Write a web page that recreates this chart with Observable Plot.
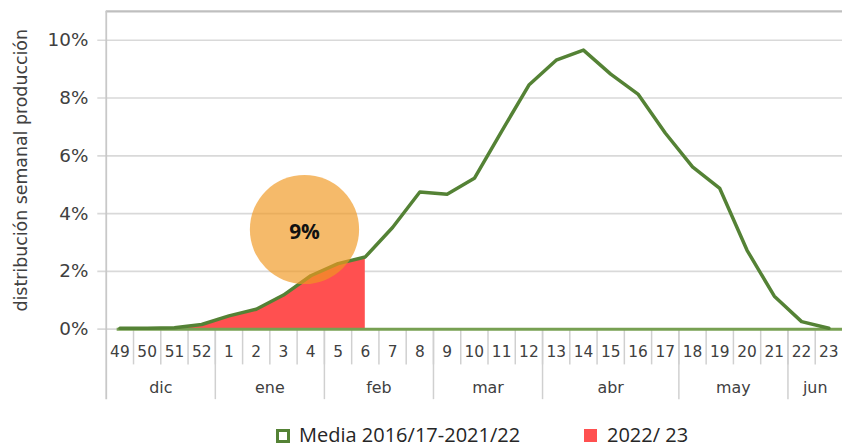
<!DOCTYPE html>
<html>
<head>
<meta charset="utf-8">
<script src="https://cdn.jsdelivr.net/npm/d3@7"></script>
<script src="https://cdn.jsdelivr.net/npm/@observablehq/plot@0.6"></script>
<style>
  html, body { margin: 0; padding: 0; background: #fff; overflow: hidden; width: 842px; height: 447px; }
  #chart { position: absolute; left: 0; top: 0; }
  .leg { position: absolute; font-family: "Open Sans", sans-serif; font-size: 20px; color: #262626; white-space: nowrap; line-height: 22px; }
  .sw { position: absolute; box-sizing: border-box; }
</style>
</head>
<body>
<div id="chart"></div>
<div class="sw" style="left:276px; top:429px; width:14px; height:14px; border:3px solid #548235; background:#fff;"></div>
<div class="leg" style="left:299px; top:424px;">Media 2016/17-2021/22</div>
<div class="sw" style="left:584px; top:429px; width:13px; height:13px; background:#FF5050;"></div>
<div class="leg" style="left:607px; top:424px;">2022/ 23</div>
<script>
// ---- data ----
const weeks = ["49","50","51","52","1","2","3","4","5","6","7","8","9","10","11","12","13","14","15","16","17","18","19","20","21","22","23"];
const media = [0.03,0.03,0.05,0.16,0.46,0.69,1.18,1.85,2.27,2.5,3.52,4.75,4.67,5.22,6.85,8.45,9.31,9.66,8.83,8.14,6.79,5.62,4.87,2.73,1.14,0.26,0.03]; // %
const season2223 = [0.02,0.02,0.04,0.14,0.44,0.67,1.15,1.8,2.25,2.48]; // % weeks 49..6
const monthNames = ["dic","ene","feb","mar","abr","may","jun"];
const monthWeekCounts = [4,4,4,4,5,4,2];
const yTicks = [0,0.02,0.04,0.06,0.08,0.10];
const yTop = 0.11;
const annotationLabel = "9%";
const annotationWeekPos = 7.27;   // between weeks 3 and 4
const annotationValue = 0.0345;
const yAxisTitle = "distribución semanal producción";

// ---- derived tables ----
const mediaData = weeks.map((w,i) => ({i: i + 0.5, w, v: media[i] / 100}));
const seasonData = season2223.map((v,i) => ({i: i + 0.5, v: v / 100}));
const weekBounds = d3.range(1, weeks.length);
let acc = 0;
const months = monthNames.map((m,k) => { const s = acc; acc += monthWeekCounts[k]; return {m, start: s, end: acc, mid: (s + acc) / 2}; });
const monthBounds = months.map(d => d.end).filter(e => e < weeks.length);

const pxPerUnit = 391 / 0.1344;
const yMin = -71 / pxPerUnit;       // bottom of the category axis area
const weekRowBottom = -36 / pxPerUnit;

const axisFont = "DejaVu Sans, sans-serif";
const grey = "#d0d0d0";

const chart = Plot.plot({
  width: 848,
  height: 416,
  marginLeft: 106.5,
  marginRight: 0,
  marginTop: 11,
  marginBottom: 14,
  style: {fontFamily: axisFont, background: "transparent", overflow: "visible"},
  x: {type: "linear", domain: [0, weeks.length], axis: null},
  y: {domain: [yMin, yTop], axis: null},
  marks: [
    Plot.ruleY(yTicks, {x1: -0.31, x2: weeks.length, stroke: "#d9d9d9", strokeWidth: 1.6}),
    Plot.ruleY([yTop], {x1: 0, x2: weeks.length, stroke: "#bfbfbf", strokeWidth: 2.2}),
    Plot.ruleX([0], {y1: yMin, y2: yTop, stroke: "#c8c8c8", strokeWidth: 1.8}),
    Plot.ruleX(weekBounds, {y1: 0, y2: weekRowBottom, stroke: grey, strokeWidth: 1.5}),
    Plot.ruleX(monthBounds, {y1: 0, y2: yMin, stroke: grey, strokeWidth: 1.5}),
    Plot.text(yTicks, {x: 0, y: d => d, text: d => d3.format(".0%")(d), textAnchor: "end", dx: -18, fontSize: 18.5, fill: "#404040"}),
    Plot.text([yAxisTitle], {x: 0, y: 0.055, text: d => d, rotate: -90, dx: -85, fontSize: 17.5, fill: "#404040"}),
    Plot.areaY(seasonData, {x: "i", y: "v", fill: "#FF5050"}),
    Plot.ruleY([0], {x1: 0.4, x2: weeks.length, stroke: "#77A052", strokeWidth: 3}),
    Plot.line(mediaData, {x: "i", y: "v", stroke: "#548235", strokeWidth: 3.5, strokeLinejoin: "round"}),
    Plot.dot([annotationValue], {x: annotationWeekPos, y: d => d, r: 55, fill: "#F09821", fillOpacity: 0.67, stroke: "none"}),
    Plot.text([annotationLabel], {x: annotationWeekPos, y: annotationValue, dy: 3, text: d => d, fontSize: 21, fontWeight: "bold", fill: "#111", fontFamily: "Open Sans, sans-serif"}),
    Plot.text(mediaData, {x: "i", y: 0, dy: 23, text: "w", fontSize: 15.5, fill: "#404040"}),
    Plot.text(months, {x: "mid", y: 0, dy: 59, text: "m", fontSize: 16, fill: "#404040"})
  ]
});
document.getElementById("chart").appendChild(chart);
</script>
</body>
</html>
